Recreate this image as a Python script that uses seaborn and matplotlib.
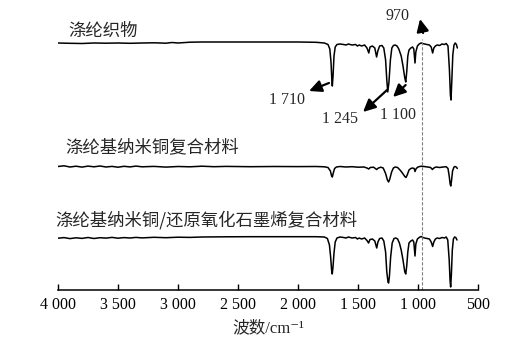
import matplotlib
matplotlib.use("Agg")
import matplotlib.pyplot as plt
import seaborn as sns
import pandas as pd

# ---------------- data ----------------
wn_top = [4000, 3900, 3800, 3700, 3600, 3500, 3400, 3300, 3200, 3100, 3050, 3000, 2950, 2900,
          2800, 2600, 2400, 2200, 2000, 1850, 1780, 1750, 1735, 1725, 1718, 1714, 1708, 1700,
          1690, 1675, 1650, 1620, 1600, 1580, 1550, 1520, 1505, 1490, 1470, 1445, 1425, 1410,
          1400, 1380, 1360, 1345, 1335, 1320, 1300, 1285, 1270, 1260, 1252, 1242, 1230, 1218,
          1205, 1190, 1175, 1160, 1140, 1125, 1110, 1102, 1094, 1085, 1075, 1060, 1045, 1035,
          1025, 1018, 1005, 990, 975, 960, 945, 925, 905, 890, 878, 868, 855, 840, 820, 800,
          780, 765, 750, 738, 730, 725, 718, 710, 700, 690, 680, 672]
t_top = [247, 246.7, 246.5, 247, 246.8, 247, 246.7, 247, 247.2, 246.8, 247.5, 247, 247.4, 247.8,
         248, 248, 248, 248, 248, 247.7, 247, 245.5, 241, 228, 210, 204, 214, 234,
         243, 245.5, 246, 245.5, 245, 246, 245, 245.5, 244, 245, 244, 245, 242, 237,
         243, 244, 242, 233, 239, 244, 244.5, 242, 230, 210, 198, 208, 230, 242,
         244.5, 245, 244, 241, 234, 224, 212, 208, 218, 234, 240, 242, 243, 241,
         227, 238, 244, 246, 247, 246.5, 246, 245.5, 245, 243, 237, 242, 244, 245, 244.5, 246,
         245.5, 246.5, 244, 220, 195, 190, 210, 235, 245, 247, 245.5, 242]

wn_mid = [4000, 3950, 3900, 3850, 3800, 3750, 3700, 3650, 3600, 3550, 3500, 3450, 3400, 3350,
          3300, 3200, 3100, 3000, 2900, 2800, 2700, 2600, 2400, 2200, 2000, 1850, 1780, 1750,
          1730, 1720, 1714, 1706, 1695, 1680, 1650, 1600, 1550, 1500, 1450, 1425, 1410, 1398,
          1370, 1345, 1330, 1310, 1290, 1270, 1255, 1245, 1235, 1220, 1205, 1190, 1170, 1150,
          1130, 1110, 1100, 1090, 1075, 1060, 1045, 1032, 1025, 1015, 1000, 985, 970, 950,
          920, 895, 880, 868, 850, 820, 790, 765, 750, 740, 732, 727, 720, 712, 700, 690,
          680, 672]
t_mid = [123.5, 124.2, 123.0, 123.8, 122.9, 123.9, 123.2, 124.0, 123.0, 123.6, 122.8, 123.7, 123.1, 123.9,
         123.2, 123.6, 122.9, 123.5, 123.2, 123.8, 123.3, 123.6, 123.3, 123.5, 123.4, 123.5, 123.2, 122.5,
         119, 114, 113, 117, 121.5, 123, 123.5, 123, 123.3, 122.8, 123, 122, 121, 122.5,
         122.8, 120.5, 122, 122.8, 122, 116.5, 110, 108, 111, 118, 122, 123, 122.5, 120,
         117, 113.5, 112.5, 115, 120, 121.5, 122, 121.5, 118.5, 121.5, 123, 123.5, 123.8, 123.5,
         123, 122.5, 120.5, 122, 123, 122.5, 123, 123.3, 121.5, 114, 106, 104, 110, 119, 123, 123.5,
         122.8, 121.5]

wn_bot = [4000, 3950, 3900, 3850, 3800, 3750, 3700, 3650, 3600, 3550, 3500, 3450, 3400, 3350,
          3300, 3200, 3100, 3000, 2900, 2800, 2600, 2400, 2200, 2000, 1850, 1780, 1755, 1738,
          1728, 1720, 1715, 1709, 1700, 1690, 1675, 1650, 1620, 1600, 1580, 1550, 1520, 1505,
          1490, 1470, 1445, 1425, 1412, 1400, 1380, 1360, 1344, 1334, 1320, 1300, 1285, 1270,
          1260, 1250, 1245, 1238, 1228, 1215, 1200, 1185, 1170, 1155, 1140, 1125, 1110, 1102,
          1094, 1085, 1075, 1060, 1045, 1035, 1025, 1018, 1005, 990, 975, 960, 945, 925,
          905, 890, 878, 868, 855, 840, 820, 800, 780, 765, 752, 740, 733, 728, 722, 714,
          705, 695, 685, 675]
t_bot = [51.8, 52.4, 51.4, 52.2, 51.6, 52.5, 51.5, 52.3, 51.9, 52.6, 51.8, 52.4, 52.0, 52.6,
         52.1, 52.7, 52.3, 52.8, 52.6, 53.0, 53.2, 53.3, 53.3, 53.3, 53.3, 53, 51.5, 45,
         33, 20, 16, 22, 37, 48, 52, 53, 52.5, 52, 53, 52, 52.5, 51,
         52, 51, 52, 49.5, 47, 50.5, 51, 49, 42, 48, 51.5, 52, 49, 38,
         18, 8, 7, 14, 33, 47, 51.5, 52, 51, 47, 40, 30, 18, 16,
         24, 38, 47, 49, 50, 48, 34, 46, 51, 52.5, 53.5, 52.5, 52, 51.5,
         51, 48, 43.5, 48, 51, 52, 51.5, 52.5, 52, 53, 50, 30, 10, 3, 15, 40,
         51, 53, 52.5, 50]

sample_names = ["涤纶织物", "涤纶基纳米铜复合材料", "涤纶基纳米铜/还原氧化石墨烯复合材料"]
tick_values = [4000, 3500, 3000, 2500, 2000, 1500, 1000, 500]
tick_labels = ["4 000", "3 500", "3 000", "2 500", "2 000", "1 500", "1 000", "500"]
peak_labels = ["1 710", "1 245", "1 100", "970"]
marker_wn = 970

# ---------------- figure ----------------
sns.set_theme(style="ticks")
plt.rcParams["font.family"] = ["Liberation Serif", "Noto Sans CJK SC", "DejaVu Serif"]

fig = plt.figure(figsize=(5.14, 3.54), dpi=100)
ax = fig.add_axes([58 / 514, 1 - 290 / 354, 420 / 514, 285 / 354])

for wn, t in [(wn_top, t_top), (wn_mid, t_mid), (wn_bot, t_bot)]:
    df = pd.DataFrame({"wn": wn, "t": t})
    sns.lineplot(data=df, x="wn", y="t", ax=ax, color="black", lw=1.1,
                 estimator=None, sort=False)

ax.vlines(marker_wn, 0, 251, colors="#808080", linestyles=(0, (3, 1.5)), lw=0.8)

ax.set_xlim(4000, 500)
ax.set_ylim(0, 285)
ax.set_xticks(tick_values)
ax.set_xticklabels(tick_labels)
ax.set_yticks([])
ax.set_ylabel("")
ax.set_xlabel("波数/cm⁻¹", fontsize=12, labelpad=5)
ax.tick_params(axis="x", direction="in", length=4, width=1, labelsize=11.5, pad=5, colors="black")
for s in ["left", "top", "right"]:
    ax.spines[s].set_visible(False)
ax.spines["bottom"].set_linewidth(1.1)
ax.spines["bottom"].set_color("black")

cjk = ["Noto Sans CJK SC", "DejaVu Sans"]
ax.text(3917, 259, sample_names[0], fontsize=12.5, family=cjk, weight="medium", ha="left", va="center")
ax.text(3942, 143, sample_names[1], fontsize=12.5, family=cjk, weight="medium", ha="left", va="center")
ax.text(4025, 70, sample_names[2], fontsize=12.5, family=cjk, weight="medium", ha="left", va="center")

arrow = dict(arrowstyle="-|>,head_length=0.62,head_width=0.3", lw=1.6, color="black",
             shrinkA=0, shrinkB=0)
ann = [  # label text, label pos, arrow tail, arrow head
    (peak_labels[0], (2092, 190), (1742, 207), (1908, 199)),
    (peak_labels[1], (1650, 171), (1258, 200), (1458, 178)),
    (peak_labels[2], (1167, 175), (1103, 205), (1208, 193)),
    (peak_labels[3], (1167, 274), (958, 257), (983, 271)),
]
for lab, lpos, tail, head in ann:
    ax.annotate("", xy=head, xytext=tail, arrowprops=arrow)
    ax.text(lpos[0], lpos[1], lab, fontsize=11.5, ha="center", va="center")

fig.savefig("out.png", dpi=100)
